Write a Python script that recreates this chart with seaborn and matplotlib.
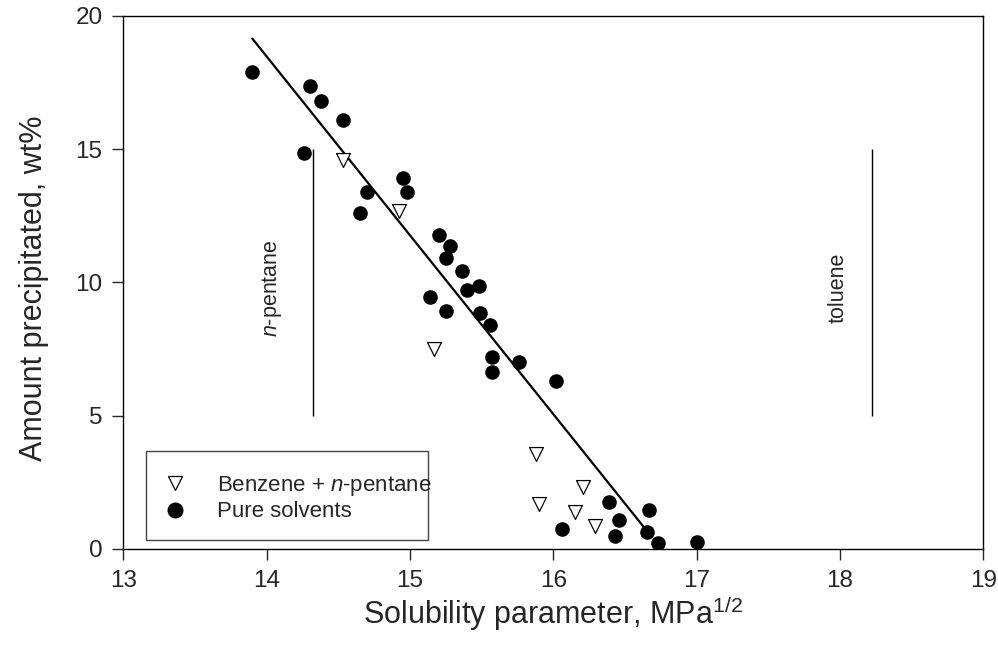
import numpy as np
import pandas as pd
import matplotlib
matplotlib.use("Agg")
import matplotlib.pyplot as plt
import seaborn as sns
from matplotlib.patches import Rectangle
from matplotlib.lines import Line2D

# solubility parameter (MPa^1/2) vs amount precipitated (wt%)
pure_x = [13.90, 14.30, 14.38, 14.53, 14.26, 14.95, 14.98, 14.70, 14.65, 15.20,
          15.28, 15.25, 15.36, 15.48, 15.40, 15.14, 15.25, 15.49, 15.56, 15.57,
          15.76, 15.57, 16.02, 16.39, 16.67, 16.46, 16.06, 16.43, 16.65, 16.73, 17.00]
pure_y = [17.89, 17.37, 16.79, 16.09, 14.85, 13.91, 13.41, 13.41, 12.59, 11.78,
          11.37, 10.90, 10.44, 9.87, 9.72, 9.46, 8.94, 8.84, 8.40, 7.21,
          7.02, 6.65, 6.31, 1.74, 1.45, 1.08, 0.74, 0.48, 0.61, 0.23, 0.26]

mix_x = [14.53, 14.92, 15.17, 15.88, 15.90, 16.21, 16.15, 16.29]
mix_y = [14.60, 12.66, 7.49, 3.56, 1.68, 2.30, 1.37, 0.85]

# fitted line end points
fit_x = [13.90, 16.63]
fit_y = [19.15, 0.82]

# solvent reference lines
solvent_names = ["$n$-pentane", "toluene"]
solvent_delta = [14.32, 18.22]
solvent_span = [5, 15]

sns.set_style("ticks")
plt.rcParams["font.family"] = ["Liberation Sans", "DejaVu Sans"]
plt.rcParams["mathtext.fontset"] = "custom"
plt.rcParams["mathtext.rm"] = "Liberation Sans"
plt.rcParams["mathtext.it"] = "Liberation Sans:italic"

fig = plt.figure(figsize=(9.98, 6.55), dpi=100)
ax = fig.add_axes([0.1236, 0.1623, 0.8617, 0.8133])

pure = pd.DataFrame({"delta": pure_x, "amount": pure_y})
mix = pd.DataFrame({"delta": mix_x, "amount": mix_y})

sns.lineplot(x=fit_x, y=fit_y, color="black", linewidth=1.6, ax=ax)
sns.scatterplot(data=mix, x="delta", y="amount", marker="v", s=100,
                facecolor="white", edgecolor="black", linewidth=0.9, ax=ax, zorder=3)
sns.scatterplot(data=pure, x="delta", y="amount", marker="o", s=110,
                color="black", edgecolor="black", linewidth=0, ax=ax, zorder=4)

for name, d, xoff in zip(solvent_names, solvent_delta, [-0.28, -0.23]):
    ax.vlines(d, solvent_span[0], solvent_span[1], color="black", linewidth=1)
    ax.text(d + xoff, 9.8, name, rotation=90, ha="center", va="center", fontsize=15.5)

ax.set_xlim(13, 19)
ax.set_ylim(0, 20)
ax.set_xticks(range(13, 20))
ax.set_yticks([0, 5, 10, 15, 20])
ax.tick_params(direction="out", length=8, width=1, labelsize=17.5, pad=7)
for sp in ax.spines.values():
    sp.set_visible(True)
    sp.set_linewidth(1)
    sp.set_color("black")

ax.set_xlabel("Solubility parameter, MPa$^{1/2}$", fontsize=22, labelpad=2)
ax.set_ylabel("Amount precipitated, wt%", fontsize=22)
ax.yaxis.set_label_coords(-0.087, 0.489)

# legend with a separate box (text runs onto the frame in the original)
ax.add_patch(Rectangle((0.026, 0.016), 0.328, 0.167, transform=ax.transAxes,
                       fill=False, edgecolor="#444444", linewidth=1, zorder=5))
handles = [
    Line2D([], [], marker="v", linestyle="none", markersize=10,
           markerfacecolor="white", markeredgecolor="black", markeredgewidth=0.9),
    Line2D([], [], marker="o", linestyle="none", markersize=10.5,
           markerfacecolor="black", markeredgecolor="black"),
]
ax.legend(handles, ["Benzene + $n$-pentane", "Pure solvents"], loc="lower left",
          bbox_to_anchor=(0.016, 0.02), frameon=False, fontsize=16,
          handletextpad=0.9, labelspacing=0.15, borderpad=0.2)

fig.savefig("out.png", dpi=100)
